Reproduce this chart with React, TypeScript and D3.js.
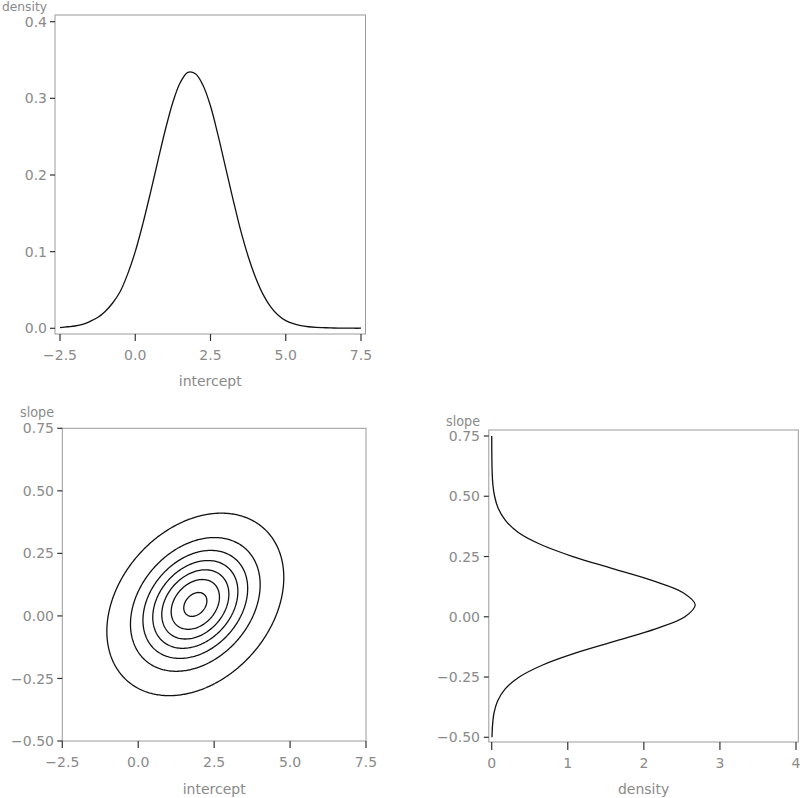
import React, { useMemo } from "react";
import * as d3 from "d3";

// ---------- data ----------
const interceptGrid = [
  -2.5, -2.25, -2.0, -1.75, -1.5, -1.25, -1.0, -0.75, -0.5, -0.25, 0.0, 0.25, 0.5, 0.75, 1.0, 1.25, 1.5, 1.75,
  2.0, 2.25, 2.5, 2.75, 3.0, 3.25, 3.5, 3.75, 4.0, 4.25, 4.5, 4.75, 5.0, 5.25, 5.5, 5.75, 6.0, 6.25, 6.5, 6.75,
  7.0, 7.25, 7.5,
];
const interceptDensity = [
  0.001, 0.002, 0.003, 0.005, 0.009, 0.014, 0.022, 0.033, 0.048, 0.071, 0.1, 0.136, 0.176, 0.218, 0.259, 0.295,
  0.321, 0.334, 0.332, 0.317, 0.29, 0.252, 0.21, 0.168, 0.128, 0.094, 0.066, 0.044, 0.028, 0.017, 0.01, 0.006,
  0.0035, 0.002, 0.0012, 0.0008, 0.0005, 0.0003, 0.0002, 0.0001, 0.0001,
];

const slopeGrid = [
  -0.5, -0.45, -0.4, -0.35, -0.3, -0.25, -0.2, -0.15, -0.1, -0.05, 0.0, 0.05, 0.1, 0.15, 0.2, 0.25, 0.3, 0.35,
  0.4, 0.45, 0.5, 0.55, 0.6, 0.65, 0.7, 0.75,
];
const slopeDensity = [
  0.004, 0.011, 0.03, 0.076, 0.175, 0.362, 0.67, 1.106, 1.634, 2.154, 2.54, 2.675, 2.517, 2.116, 1.59, 1.067,
  0.645, 0.35, 0.18, 0.085, 0.038, 0.015, 0.006, 0.0025, 0.001, 0.0005,
];

// joint posterior summary used for the contour panel
const jointMean = [1.88, 0.046];
const jointSd = [1.19, 0.149];
const jointCorrelation = [0.295];
const contourLevels = [0.05, 0.2, 0.35, 0.5, 0.65, 0.8, 0.95]; // fraction of peak density

// ticks
const interceptTicks = [-2.5, 0, 2.5, 5, 7.5];
const interceptTickLabels = ["\u22122.5", "0.0", "2.5", "5.0", "7.5"];
const topDensityTicks = [0, 0.1, 0.2, 0.3, 0.4];
const topDensityTickLabels = ["0.0", "0.1", "0.2", "0.3", "0.4"];
const slopeTicks = [-0.5, -0.25, 0, 0.25, 0.5, 0.75];
const slopeTickLabels = ["\u22120.50", "\u22120.25", "0.00", "0.25", "0.50", "0.75"];
const sideDensityTicks = [0, 1, 2, 3, 4];
const sideDensityTickLabels = ["0", "1", "2", "3", "4"];

// ---------- styles ----------
const FONT = "'DejaVu Sans', 'Liberation Sans', sans-serif";
const TEXT_COLOR = "#8a8a8a";
const FRAME_COLOR = "#9a9a9a";
const TICK_COLOR = "#333";
const LINE_COLOR = "#111";
const FS = 14;

type Panel = {
  frame: [number, number, number, number]; // x0,y0,x1,y1
  x: d3.ScaleLinear<number, number>;
  y: d3.ScaleLinear<number, number>;
  xTicks: number[];
  xLabels: string[];
  yTicks: number[];
  yLabels: string[];
  xTitle: string;
  yTitle: string;
  xTickLen: number;
  yTickLen: number;
  xLabelBase: number;
  xTitleBase: number;
  yLabelRight: number;
  yTitleBase: number;
  yTitleWidth: number;
  yTitleSize: number;
};

function Axes({ p }: { p: Panel }) {
  const [x0, y0, x1, y1] = p.frame;
  const xTitleX = (x0 + x1) / 2;
  return (
    <g>
      <rect x={x0} y={y0} width={x1 - x0} height={y1 - y0} fill="none" stroke={FRAME_COLOR} strokeWidth={1} />
      {p.xTicks.map((t, i) => (
        <g key={"x" + i}>
          <line x1={p.x(t)} x2={p.x(t)} y1={y1} y2={y1 + p.xTickLen} stroke={TICK_COLOR} strokeWidth={1.2} />
          <text x={p.x(t)} y={p.xLabelBase} textAnchor="middle" fontFamily={FONT} fontSize={FS} fill={TEXT_COLOR}>
            {p.xLabels[i]}
          </text>
        </g>
      ))}
      {p.yTicks.map((t, i) => (
        <g key={"y" + i}>
          <line x1={x0 - p.yTickLen} x2={x0} y1={p.y(t)} y2={p.y(t)} stroke={TICK_COLOR} strokeWidth={1.2} />
          <text
            x={p.yLabelRight}
            y={p.y(t)}
            dy="0.36em"
            textAnchor="end"
            fontFamily={FONT}
            fontSize={FS}
            fill={TEXT_COLOR}
          >
            {p.yLabels[i]}
          </text>
        </g>
      ))}
      <text x={xTitleX} y={p.xTitleBase} textAnchor="middle" fontFamily={FONT} fontSize={FS} fill={TEXT_COLOR}>
        {p.xTitle}
      </text>
      <text
        x={p.yLabelRight - p.yTitleWidth}
        y={p.yTitleBase}
        textAnchor="start"
        textLength={p.yTitleWidth}
        lengthAdjust="spacingAndGlyphs"
        fontFamily={FONT}
        fontSize={p.yTitleSize}
        fill={TEXT_COLOR}
      >
        {p.yTitle}
      </text>
    </g>
  );
}

export default function App() {
  // top-left: intercept marginal
  const topPanel: Panel = {
    frame: [55, 15, 365.5, 334],
    x: d3.scaleLinear().domain([-2.5, 7.5]).range([60, 361]),
    y: d3.scaleLinear().domain([0, 0.4]).range([328.3, 21.7]),
    xTicks: interceptTicks,
    xLabels: interceptTickLabels,
    yTicks: topDensityTicks,
    yLabels: topDensityTickLabels,
    xTitle: "intercept",
    yTitle: "density",
    xTickLen: 7,
    yTickLen: 5,
    xLabelBase: 360,
    xTitleBase: 386,
    yLabelRight: 47,
    yTitleBase: 10.6,
    yTitleWidth: 45,
    yTitleSize: 12.5,
  };

  // bottom-left: joint contours
  const jointPanel: Panel = {
    frame: [62.3, 428.3, 366, 741],
    x: d3.scaleLinear().domain([-2.5, 7.5]).range([62.3, 366]),
    y: d3.scaleLinear().domain([-0.5, 0.75]).range([741, 428.3]),
    xTicks: interceptTicks,
    xLabels: interceptTickLabels,
    yTicks: slopeTicks,
    yLabels: slopeTickLabels,
    xTitle: "intercept",
    yTitle: "slope",
    xTickLen: 7,
    yTickLen: 5,
    xLabelBase: 767,
    xTitleBase: 794,
    yLabelRight: 54,
    yTitleBase: 417,
    yTitleWidth: 34,
    yTitleSize: 14,
  };

  // bottom-right: slope marginal (rotated)
  const sidePanel: Panel = {
    frame: [488.8, 430, 798.3, 742],
    x: d3.scaleLinear().domain([0, 4]).range([491.7, 796]),
    y: d3.scaleLinear().domain([-0.5, 0.75]).range([737.3, 436]),
    xTicks: sideDensityTicks,
    xLabels: sideDensityTickLabels,
    yTicks: slopeTicks,
    yLabels: slopeTickLabels,
    xTitle: "density",
    yTitle: "slope",
    xTickLen: 8,
    yTickLen: 5,
    xLabelBase: 768,
    xTitleBase: 794,
    yLabelRight: 480,
    yTitleBase: 425.5,
    yTitleWidth: 34,
    yTitleSize: 14,
  };

  const topPath = useMemo(() => {
    const pts: [number, number][] = interceptGrid.map((v, i) => [v, interceptDensity[i]]);
    return d3
      .line<[number, number]>()
      .x((d) => topPanel.x(d[0]))
      .y((d) => topPanel.y(d[1]))
      .curve(d3.curveCatmullRom)(pts);
  }, []);

  const sidePath = useMemo(() => {
    const pts: [number, number][] = slopeGrid.map((v, i) => [v, slopeDensity[i]]);
    return d3
      .line<[number, number]>()
      .x((d) => sidePanel.x(d[1]))
      .y((d) => sidePanel.y(d[0]))
      .curve(d3.curveCatmullRom)(pts);
  }, []);

  const contourPaths = useMemo(() => {
    const nx = 240;
    const ny = 240;
    const [xd0, xd1] = jointPanel.x.domain();
    const [yd0, yd1] = jointPanel.y.domain();
    const dx = (xd1 - xd0) / nx;
    const dy = (yd1 - yd0) / ny;
    const rho = jointCorrelation[0];
    const vals = new Array(nx * ny);
    for (let j = 0; j < ny; j++) {
      const s = yd1 - (j + 0.5) * dy;
      const zy = (s - jointMean[1]) / jointSd[1];
      for (let i = 0; i < nx; i++) {
        const a = xd0 + (i + 0.5) * dx;
        const zx = (a - jointMean[0]) / jointSd[0];
        const q = (zx * zx - 2 * rho * zx * zy + zy * zy) / (1 - rho * rho);
        vals[j * nx + i] = Math.exp(-q / 2);
      }
    }
    const polys = d3.contours().size([nx, ny]).thresholds(contourLevels)(vals);
    const xs = jointPanel.x;
    const ys = jointPanel.y;
    const proj = d3.geoTransform({
      point(px: number, py: number) {
        (this as any).stream.point(xs(xd0 + px * dx), ys(yd1 - py * dy));
      },
    });
    const gp = d3.geoPath(proj);
    return polys.map((p) => gp(p as any) || "");
  }, []);

  return (
    <svg
      width={800}
      height={798}
      style={{ position: "absolute", left: 0, top: 0, background: "#fff" }}
    >
      <rect x={0} y={0} width={800} height={798} fill="#fff" />
      <Axes p={topPanel} />
      <path d={topPath || ""} fill="none" stroke={LINE_COLOR} strokeWidth={1.3} />

      <Axes p={jointPanel} />
      {contourPaths.map((d, i) => (
        <path key={i} d={d} fill="none" stroke={LINE_COLOR} strokeWidth={1.3} />
      ))}

      <Axes p={sidePanel} />
      <path d={sidePath || ""} fill="none" stroke={LINE_COLOR} strokeWidth={1.3} />
    </svg>
  );
}
